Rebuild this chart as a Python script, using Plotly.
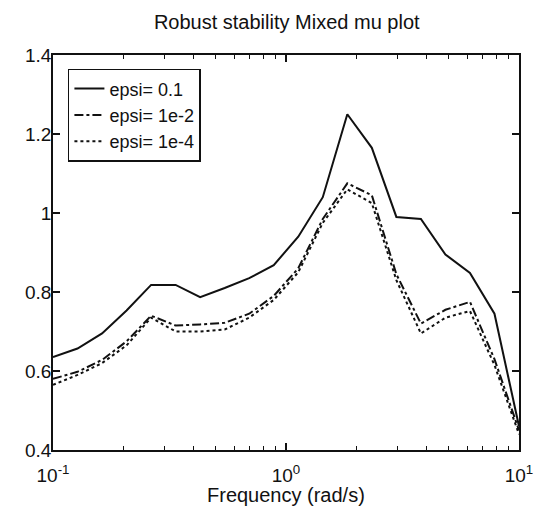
import plotly.graph_objects as go

# Frequency grid (rad/s), 20 log-spaced points from 0.1 to 10
freq = [0.1, 0.1274, 0.1624, 0.2069, 0.2637, 0.3360, 0.4281, 0.5456, 0.6952, 0.8859,
        1.1288, 1.4384, 1.8330, 2.3357, 2.9764, 3.7927, 4.8329, 6.1585, 7.8476, 10.0]

mu_eps_1e1 = [0.635, 0.657, 0.695, 0.753, 0.818, 0.818, 0.787, 0.810, 0.835, 0.868,
              0.940, 1.040, 1.250, 1.165, 0.990, 0.985, 0.895, 0.848, 0.745, 0.460]
mu_eps_1e2 = [0.580, 0.598, 0.628, 0.675, 0.740, 0.715, 0.718, 0.722, 0.745, 0.790,
              0.860, 0.985, 1.075, 1.045, 0.845, 0.720, 0.755, 0.775, 0.630, 0.450]
mu_eps_1e4 = [0.565, 0.590, 0.620, 0.665, 0.735, 0.700, 0.700, 0.705, 0.735, 0.780,
              0.850, 0.975, 1.060, 1.025, 0.830, 0.695, 0.735, 0.752, 0.615, 0.440]

series_names = ["epsi= 0.1", "epsi= 1e-2", "epsi= 1e-4"]

x_tickvals = [0.1, 1, 10]
x_ticktext = ["10<sup>-1</sup>", "10<sup>0</sup>", "10<sup>1</sup>"]
x_minor = [0.2, 0.3, 0.4, 0.5, 0.6, 0.7, 0.8, 0.9, 2, 3, 4, 5, 6, 7, 8, 9]
y_tickvals = [0.4, 0.6, 0.8, 1.0, 1.2, 1.4]
y_ticktext = ["0.4", "0.6", "0.8", "1", "1.2", "1.4"]

FONT = "Liberation Sans, Arial, sans-serif"
INK = "#111111"

fig = go.Figure()
fig.add_trace(go.Scatter(x=freq, y=mu_eps_1e1, mode="lines", name=series_names[0],
                         line=dict(color=INK, width=2, dash="solid")))
fig.add_trace(go.Scatter(x=freq, y=mu_eps_1e2, mode="lines", name=series_names[1],
                         line=dict(color=INK, width=2, dash="dashdot")))
fig.add_trace(go.Scatter(x=freq, y=mu_eps_1e4, mode="lines", name=series_names[2],
                         line=dict(color=INK, width=2, dash="dot")))

fig.update_layout(
    width=541, height=508,
    margin=dict(l=53, r=22, t=55, b=58),
    paper_bgcolor="white", plot_bgcolor="white",
    font=dict(family=FONT, size=19, color=INK),
    title=dict(text="Robust stability Mixed mu plot", x=0.53, xanchor="center",
               y=1 - 22 / 508, yanchor="middle", font=dict(size=20, family=FONT, color=INK)),
    showlegend=True,
    legend=dict(x=0.032, y=0.965, xanchor="left", yanchor="top",
                bordercolor=INK, borderwidth=1.5, bgcolor="white",
                font=dict(size=18, family=FONT, color=INK), itemwidth=30,
                tracegroupgap=0),
    annotations=[dict(text="Frequency (rad/s)", xref="paper", yref="paper",
                      x=0.5, y=-0.113, xanchor="center", yanchor="middle",
                      showarrow=False, font=dict(size=20, family=FONT, color=INK))],
)
fig.update_xaxes(
    type="log", range=[-1, 1], automargin=False,
    tickmode="array", tickvals=x_tickvals, ticktext=x_ticktext,
    ticks="inside", ticklen=7, tickwidth=1.5, tickcolor=INK,
    minor=dict(tickmode="array", tickvals=x_minor, ticks="inside", ticklen=4,
               tickwidth=1.2, tickcolor=INK, showgrid=False),
    showline=True, linecolor=INK, linewidth=1.5, mirror="ticks",
    showgrid=False, zeroline=False,
    ticklabelstandoff=7,
    tickfont=dict(size=19, family=FONT, color=INK),
)
fig.update_yaxes(
    range=[0.4, 1.4], automargin=False,
    tickmode="array", tickvals=y_tickvals, ticktext=y_ticktext,
    ticks="inside", ticklen=7, tickwidth=1.5, tickcolor=INK,
    showline=True, linecolor=INK, linewidth=1.5, mirror="ticks",
    showgrid=False, zeroline=False,
    ticklabelstandoff=-4,
    tickfont=dict(size=19, family=FONT, color=INK),
)

fig.write_html("out.html", config={"displayModeBar": False},
               post_script="document.body.style.margin='0';document.body.style.overflow='hidden';")
